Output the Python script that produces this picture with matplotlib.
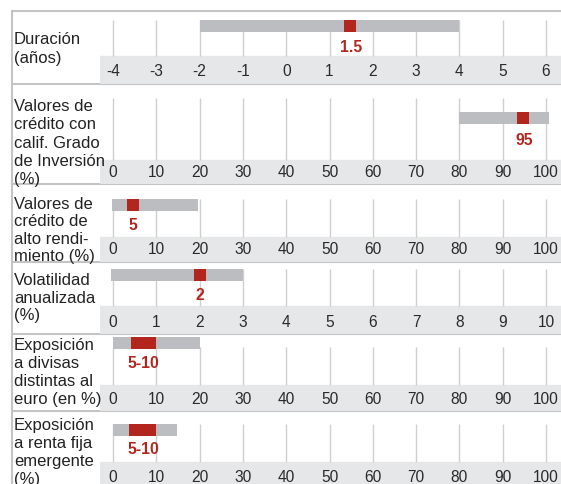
import matplotlib
matplotlib.use('Agg')
import matplotlib.pyplot as plt

plt.rcParams['font.family'] = ['Liberation Sans', 'DejaVu Sans']

# data
labels = ['Duración\n(años)',
          'Valores de\ncrédito con\ncalif. Grado\nde Inversión\n(%)',
          'Valores de\ncrédito de\nalto rendi-\nmiento (%)',
          'Volatilidad\nanualizada\n(%)',
          'Exposición\na divisas\ndistintas al\neuro (en %)',
          'Exposición\na renta fija\nemergente\n(%)']
tick_sets = [list(range(-4, 7)),
             list(range(0, 101, 10)),
             list(range(0, 101, 10)),
             list(range(0, 11)),
             list(range(0, 101, 10)),
             list(range(0, 101, 10))]
range_lo = [-2, 80, -0.3, -0.05, 0, 0]
range_hi = [4, 100.7, 19.7, 3, 20, 14.8]
mark_lo = [1.34, 93.3, 3.3, 1.86, 4.2, 3.7]
mark_hi = [1.62, 96.1, 6.0, 2.14, 9.9, 9.9]
value_x = [1.5, 95, 4.6, 2, 6.9, 7.0]
value_txt = ['1.5', '95', '5', '2', '5-10', '5-10']

# layout (pixels)
W, H = 561, 484
seps = [11, 84, 184, 262, 334, 411, 490]
grid_top = [20, 98, 199, 269, 347, 424]
bar_top = [20, 112, 199, 269, 337, 424]
val_y = [47, 140, 225, 296, 363, 449]
band_top = [56, 160, 237, 306, 385, 462]
text_top = [31, 98, 196, 272, 337, 417]
line_sp = [1.3, 1.28, 1.2, 1.22, 1.26, 1.24]

RED = '#b3261e'
BARGRAY = '#bcbdc1'
BAND = '#e6e7e8'
GRID = '#cfcfcf'
LINE = '#c4c4c4'

fig = plt.figure(figsize=(W / 100, H / 100), dpi=100)

bg = fig.add_axes([0, 0, 1, 1])
bg.set_xlim(0, W)
bg.set_ylim(H, 0)
bg.axis('off')
bg.plot([12, 12], [seps[0], H], color=LINE, lw=1.5)
for s in seps[:-1]:
    bg.plot([12, W], [s, s], color=LINE, lw=1.5)

for i in range(len(labels)):
    top, bot = seps[i], seps[i + 1]
    ticks = tick_sets[i]
    t0, t1 = ticks[0], ticks[-1]
    span = t1 - t0
    xl = t0 - 13 / 433 * span
    xr = t0 + 448 / 433 * span
    ax = fig.add_axes([100 / W, 1 - bot / H, (W - 100) / W, (bot - top) / H])
    ax.set_xlim(xl, xr)
    ax.set_ylim(bot, top)
    ax.axis('off')
    ax.axhspan(band_top[i], bot - 1, color=BAND, zorder=0)
    ax.vlines(ticks, grid_top[i], band_top[i], color=GRID, lw=1, zorder=1)
    yc = bar_top[i] + 6
    ax.barh(yc, range_hi[i] - range_lo[i], left=range_lo[i], height=12,
            color=BARGRAY, zorder=2)
    ax.barh(yc, mark_hi[i] - mark_lo[i], left=mark_lo[i], height=12,
            color=RED, zorder=3)
    ax.text(value_x[i], val_y[i], value_txt[i], ha='center', va='center',
            color=RED, fontsize=11.3, fontweight='bold')
    ty = bot - 12 if i < 5 else 477
    for t in ticks:
        ax.text(t, ty, str(t), ha='center', va='center', fontsize=11.2,
                color='#2a2a2a')
    fig.text(14 / W, 1 - (text_top[i] + 1) / H, labels[i], ha='left',
             va='top', fontsize=12, color='#222222', linespacing=line_sp[i])

fig.savefig('out.png', dpi=100)
